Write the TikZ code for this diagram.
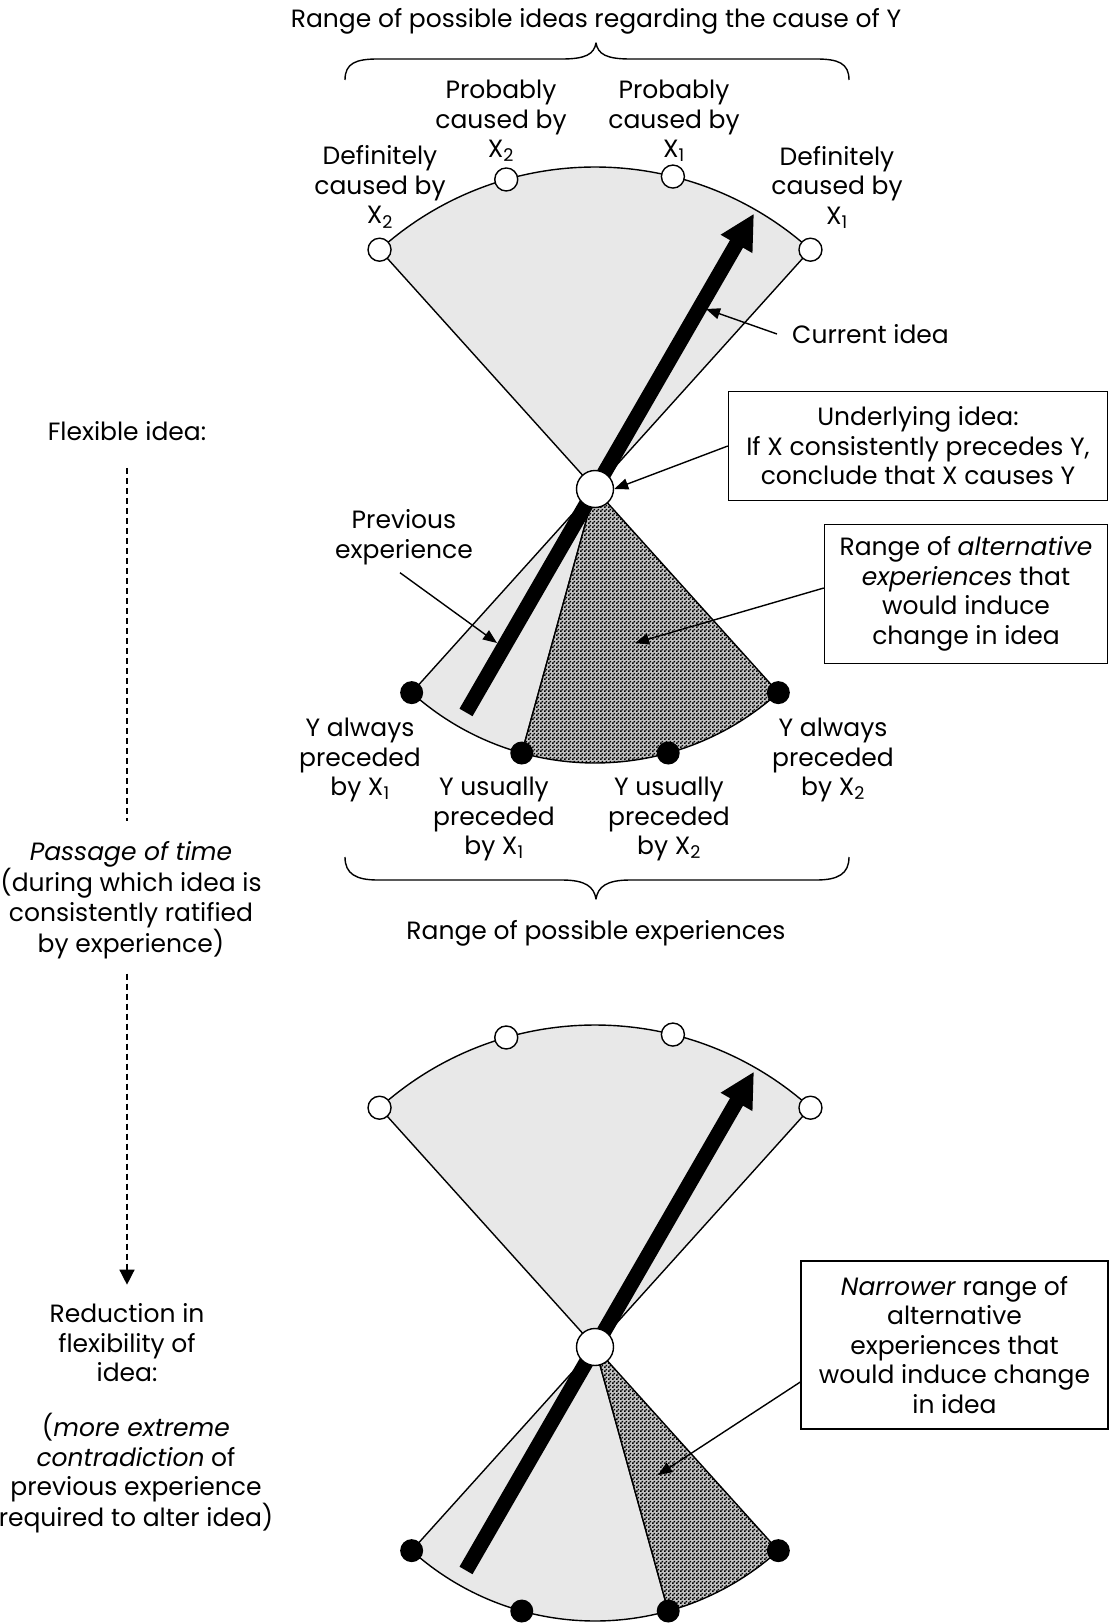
\documentclass[tikz,border=0pt]{standalone}
\usepackage{fontspec}
\setmainfont{Poppins}
\usetikzlibrary{arrows.meta,patterns,calc}

\definecolor{fanfill}{RGB}{232,232,232}
\definecolor{darkbase}{RGB}{196,196,196}

% fine black checker laid over a grey base for the dark sector
\pgfdeclarepatternformonly{finechecker}{\pgfpointorigin}{\pgfpoint{4pt}{4pt}}{\pgfpoint{4pt}{4pt}}{%
  \pgfpathrectangle{\pgfpointorigin}{\pgfpoint{2pt}{2pt}}%
  \pgfpathrectangle{\pgfpoint{2pt}{2pt}}{\pgfpoint{2pt}{2pt}}%
  \pgfusepath{fill}}

\newcommand\fs{\fontsize{25}{29.5}\selectfont}

\tikzset{
  txt/.style={align=center, inner sep=0pt, font=\fs},
  edge/.style={line width=1.4pt, line join=round},
  opendot/.style={circle, draw, line width=1.4pt, fill=white, minimum size=23pt, inner sep=0pt},
  blackdot/.style={circle, fill=black, minimum size=23pt, inner sep=0pt},
  hubdot/.style={circle, draw, line width=1.4pt, fill=white, minimum size=37pt, inner sep=0pt},
  bigarrow/.style={line width=15pt, -{Triangle[length=35pt,width=34pt]}},
  callout/.style={line width=1.4pt, -{Triangle[length=14pt,width=11pt]}},
  infobox/.style={draw, line width=1.4pt, align=center, inner sep=0pt, font=\fs},
  timeline/.style={line width=1.4pt, dash pattern=on 6pt off 4pt},
}

% #1: hub coordinate, #2: angle where the dark sector of the lower fan begins
\newcommand\drawfan[2]{%
  \filldraw[edge, fill=fanfill] (#1) -- ++(-48:322) arc[start angle=-48, end angle=-132, radius=322] -- cycle;
  \filldraw[edge, fill=fanfill] (#1) -- ++(132:274) arc[start angle=132, end angle=#2, radius=274] -- cycle;
  \fill[darkbase] (#1) -- ++(#2:274) arc[start angle=#2, end angle=48, radius=274] -- cycle;
  \fill[pattern=finechecker, pattern color=black] (#1) -- ++(#2:274) arc[start angle=#2, end angle=48, radius=274] -- cycle;
  \draw[edge] (#1) -- ++(#2:274) arc[start angle=#2, end angle=48, radius=274] -- cycle;
  \coordinate (#1-tail) at ([shift={(120:258)}]#1);
  \coordinate (#1-tip) at ([shift={(-60:318)}]#1);
  \draw[bigarrow] (#1-tail) -- (#1-tip);
  \node[hubdot] (#1-hub) at (#1) {};
  \foreach \a/\n in {-132/1,-106/2,-76/3,-48/4}
    \node[opendot] (#1-u\n) at ([shift={(\a:322)}]#1) {};
  \foreach \a/\n in {132/1,105.5/2,74.5/3,48/4}
    \node[blackdot] (#1-l\n) at ([shift={(\a:274)}]#1) {};
}

\begin{document}
\begin{tikzpicture}[x=1pt, y=-1pt]
\useasboundingbox (0,0) rectangle (1109,1624);
\coordinate (hA) at (595,489);
\coordinate (hB) at (595,1347);
\drawfan{hA}{105.5}
\drawfan{hB}{74.5}

% range of ideas
\node[txt] (ideas) at (596,21) {Range of possible ideas regarding the cause of Y};
\draw[edge] (345,80) .. controls (345,63) and (356,59) .. (378,59) -- (562,59)
  .. controls (586,59) and (594,54) .. (596,43) .. controls (598,54) and (606,59) .. (630,59)
  -- (816,59) .. controls (838,59) and (849,63) .. (849,80);

\node[txt] (defX2) at (380,187) {Definitely\\caused by\\X\textsubscript{2}};
\node[txt] (probX2) at (501,121) {Probably\\caused by\\X\textsubscript{2}};
\node[txt] (probX1) at (674,121) {Probably\\caused by\\X\textsubscript{1}};
\node[txt] (defX1) at (837,187) {Definitely\\caused by\\X\textsubscript{1}};

% callouts of the first fan
\node[txt, anchor=west] (cur) at (792,334) {Current idea};
\coordinate (curTo) at (706,309);
\draw[callout] ([xshift=-15pt]cur.west) -- (curTo);

\node[infobox, minimum width=379pt, minimum height=109pt] (under) at (918,446)
  {Underlying idea:\\If X consistently precedes Y,\\conclude that X causes Y};
\draw[callout] (under.west) -- (hA-hub.east);

\node[txt] (prev) at (404,537) {Previous\\experience};
\coordinate (prevTo) at (497,643);
\draw[callout] ([shift={(-4,8)}]prev.south) -- (prevTo);

\node[infobox, minimum width=283pt, minimum height=139pt] (alt) at (966,594)
  {Range of \textit{alternative}\\\textit{experiences} that\\would induce\\change in idea};
\coordinate (altTo) at (635,643);
\draw[callout] ([shift={(0,-6)}]alt.west) -- (altTo);

% range of experiences
\node[txt] (alwX1) at (360,760) {Y always\\preceded\\by X\textsubscript{1}};
\node[txt] (usuX1) at (494,819) {Y usually\\preceded\\by X\textsubscript{1}};
\node[txt] (usuX2) at (669,819) {Y usually\\preceded\\by X\textsubscript{2}};
\node[txt] (alwX2) at (833,760) {Y always\\preceded\\by X\textsubscript{2}};

\draw[edge] (345,857) .. controls (345,874) and (356,880) .. (378,880) -- (562,880)
  .. controls (586,880) and (594,887) .. (596,899) .. controls (598,887) and (606,880) .. (630,880)
  -- (816,880) .. controls (838,880) and (849,874) .. (849,857);
\node[txt] (exps) at (596,933) {Range of possible experiences};

% time line on the left
\node[txt] (flex) at (127,431) {Flexible idea:};
\node[txt] (time) at (131,900) {\textit{Passage of time}\\(during which idea is\\consistently ratified\\by experience)};
\node[txt] (less) at (127,1343) {Reduction in\\flexibility of\\idea:};
\node[txt] (why) at (136,1473) {(\textit{more extreme}\\\textit{contradiction} of\\previous experience\\required to alter idea)};
\draw[timeline, shorten <=27pt, shorten >=20pt] (flex.south) -- (flex.south |- time.north);
\draw[timeline, shorten <=15pt, shorten >=19pt, -{Triangle[length=15pt,width=15pt]}]
  (flex.south |- time.south) -- (flex.south |- less.north);

% callout of the second fan
\node[infobox, minimum width=307pt, minimum height=168pt] (narrow) at (954.5,1345)
  {\textit{Narrower} range of\\alternative\\experiences that\\would induce change\\in idea};
\coordinate (narrowTo) at (658,1475);
\draw[callout] ([shift={(0,37)}]narrow.west) -- (narrowTo);
\end{tikzpicture}
\end{document}
